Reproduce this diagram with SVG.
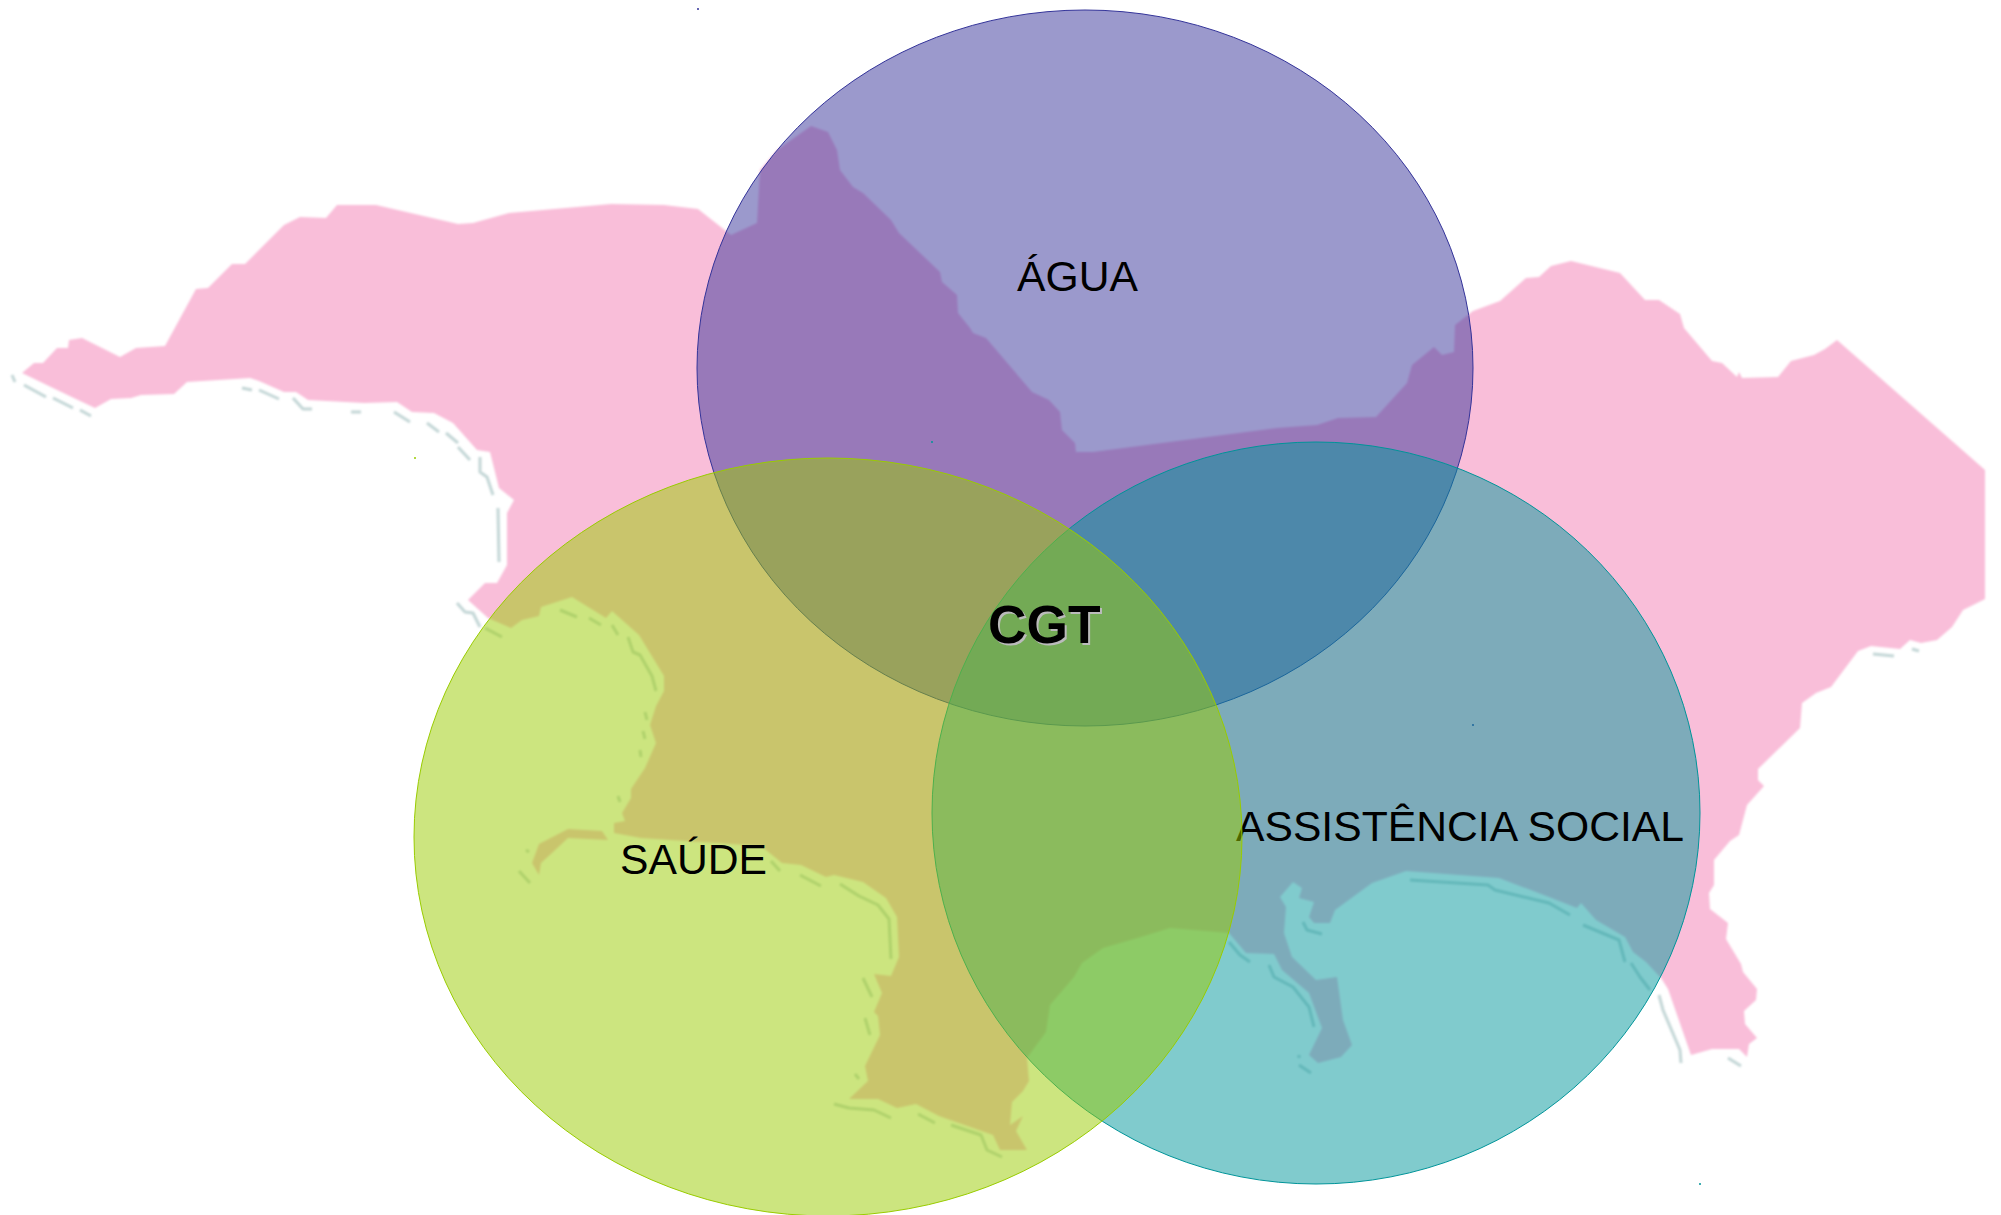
<svg xmlns="http://www.w3.org/2000/svg" width="2001" height="1215" viewBox="0 0 2001 1215">
<defs><filter id="soft" x="-2%" y="-2%" width="104%" height="104%"><feGaussianBlur stdDeviation="0.8"/></filter></defs>
<style>
.land{fill:#f9bed9}
.coast{fill:none;stroke:#c3d6d6;stroke-width:3;stroke-linejoin:round}
.set{fill-opacity:.5;stroke-width:1}
.speck{stroke-width:1.5;fill:none}
.lbl{font-family:"Liberation Sans",Arial,sans-serif;font-size:42.67px;fill:#000}
.core{font-family:"Liberation Sans",Arial,sans-serif;font-size:53.3px;font-weight:bold}
</style>
<rect width="2001" height="1215" fill="#fff"/>
<g id="map" filter="url(#soft)">
<path class="land" d="M22 373L34 363L43 363L57 348L68 348L69 340L82 338L120 357L136 348L165 346L196 289L208 288L232 264L245 264L284 225L300 217L326 218L337 205L376 205L458 224L473 223L509 213L611 204L664 205L698 209L731 235L757 223L760 170L777 150L811 126L828 132L837 150L840 170L853 187L863 193L891 220L899 233L940 272L942 282L957 295L958 313L970 328L973 333L986 338L1032 392L1049 400L1060 412L1062 430L1075 443L1076 452L1093 452L1277 428L1317 425L1338 418L1376 417L1407 383L1412 365L1434 347L1442 355L1454 352L1455 325L1473 311L1500 301L1526 278L1539 277L1551 266L1571 261L1620 273L1645 300L1659 300L1680 314L1684 328L1712 361L1722 363L1737 377L1739 372L1742 378L1778 377L1791 361L1814 355L1825 349L1837 340L1985 470L1985 599L1963 610L1952 627L1937 640L1921 643L1910 640L1900 649L1871 646L1858 651L1831 687L1816 693L1802 703L1800 728L1758 769L1758 780L1764 786L1747 805L1739 835L1730 841L1714 860L1714 885L1709 893L1710 909L1728 923L1726 939L1741 964L1743 972L1757 989L1756 1000L1744 1011L1745 1024L1757 1038L1749 1044L1747 1057L1739 1049L1712 1049L1691 1055L1668 989L1661 978L1646 962L1633 952L1625 937L1596 920L1581 903L1577 908L1549 897L1499 878L1406 871L1372 883L1335 910L1330 923L1314 923L1309 917L1314 902L1299 898L1302 888L1293 882L1280 897L1286 907L1284 933L1292 957L1316 980L1337 977L1343 1020L1352 1045L1341 1057L1318 1063L1309 1055L1322 1028L1309 993L1282 970L1274 954L1246 953L1229 933L1170 928L1141 937L1103 948L1082 963L1074 977L1050 1005L1046 1032L1027 1058L1029 1081L1023 1091L1012 1102L1010 1125L1023 1116L1016 1131L1027 1150L1000 1150L993 1135L939 1116L916 1104L897 1108L878 1099L849 1099L868 1081L865 1066L880 1035L878 1016L874 1012L882 993L874 974L891 976L899 957L897 917L886 898L863 882L834 875L826 877L801 865L782 863L761 846L641 838L614 833L614 823L625 821L622 813L631 798L631 789L645 768L656 743L650 725L656 706L664 691L664 676L639 635L612 611L606 618L572 597L541 607L539 616L522 620L511 628L488 618L468 600L485 583L497 583L507 565L507 513L514 500L499 488L490 452L477 450L453 423L434 413L412 412L397 402L364 403L308 400L296 392L284 392L259 381L250 378L187 382L174 394L141 395L131 398L111 399L95 408L78 400L53 388Z"/>
<path class="land" d="M539 844L568 829L602 831L608 840L568 838L553 852L541 863L539 875L532 863Z"/>
<path class="coast" d="M12 375L15 382M24 385L46 397M53 398L73 408M80 410L91 416M242 388L252 390M259 390L279 399M293 398L303 409L312 409M351 412L361 412M394 412L410 422M427 423L439 432M446 433L458 443M458 447L470 460M480 457L480 472L487 477L493 495M498 508L499 562M457 603L465 612L473 613L480 627M485 628L502 637M560 610L577 617M589 618L601 625M612 625L618 635M628 637L633 652L640 655L652 676L656 691M645 712L647 720M643 731L645 739M640 750L641 757M618 796L620 802M526 850L529 852M519 871L530 883M771 861L780 871M800 875L821 886M840 884L859 896L878 905L889 919L891 959M863 978L872 997M865 1018L870 1035M855 1074L859 1079M834 1104L849 1108L874 1110L891 1118M918 1114L935 1123M951 1125L981 1135L987 1150L1002 1157M1229 942L1240 955L1250 962M1269 965L1274 977L1293 987L1309 1007L1314 1027M1299 1055L1299 1058M1299 1065L1311 1073M1303 922L1307 930L1322 934M1410 880L1488 885L1495 890L1549 903L1570 915M1583 925L1619 940L1625 962M1631 963L1640 977L1650 990M1659 995L1663 1010L1680 1050L1681 1063M1728 1058L1741 1066M1873 654L1894 656M1912 649L1919 651"/>
</g>
<g id="agua">
<ellipse class="set" cx="1085" cy="368" rx="388" ry="358" fill="#373399" stroke="#333399"/>
<path class="speck" stroke="#333399" d="M697 9h2M1472 725h2"/>
<text class="lbl" x="1017" y="291">ÁGUA</text>
</g>
<g id="assistencia">
<ellipse class="set" cx="1316" cy="813" rx="384" ry="371" fill="#01979b" stroke="#009499"/>
<path class="speck" stroke="#009499" d="M931 442h2M1699 1184h2"/>
<text class="lbl" x="1236" y="841">ASSISTÊNCIA SOCIAL</text>
</g>
<g id="saude">
<ellipse class="set" cx="828" cy="837" rx="414" ry="379" fill="#99cc00" stroke="#99cc00"/>
<path class="speck" stroke="#99cc00" d="M414 458h2"/>
<text class="lbl" x="620" y="874">SAÚDE</text>
</g>
<g id="cgt">
<text class="core" x="990" y="645" fill="#bbb">CGT</text>
<text class="core" x="988" y="643" fill="#000">CGT</text>
</g>
</svg>
